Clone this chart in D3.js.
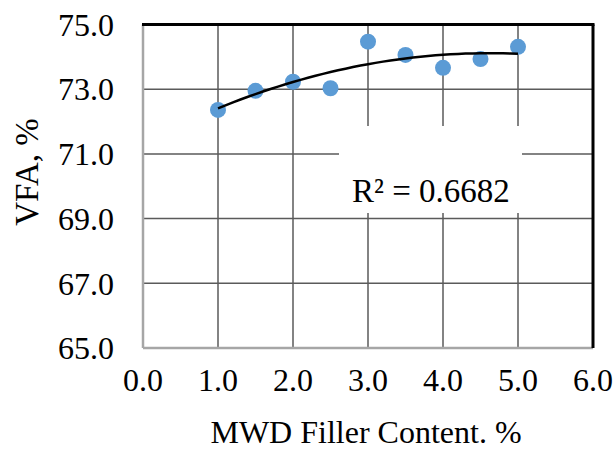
<!DOCTYPE html>
<html>
<head>
<meta charset="utf-8">
<script src="https://cdn.jsdelivr.net/npm/d3@7"></script>
<style>
  body { margin: 0; background: #fff; }
  svg { display: block; font-family: "Liberation Serif", "Times New Roman", serif; }
</style>
</head>
<body>
<svg width="614" height="450"></svg>
<script>
// Данные графика
const fillerContent = [1.0, 1.5, 2.0, 2.5, 3.0, 3.5, 4.0, 4.5, 5.0];
const vfaValues = [72.36, 72.95, 73.23, 73.03, 74.47, 74.06, 73.66, 73.93, 74.31];
const xTicks = [0, 1, 2, 3, 4, 5, 6];
const yTicks = [65, 67, 69, 71, 73, 75];
const rSquaredLabel = "R² = 0.6682";

const svg = d3.select("svg");

// Параметры области графика
const area = { left: 143, right: 593, top: 24.5, bottom: 348 };

const scX = d3.scaleLinear().domain([0, 6]).range([area.left, area.right]);
const scY = d3.scaleLinear().domain([65, 75]).range([area.bottom, area.top]);

// Сетка
svg.append("g")
    .selectAll("line")
    .data(xTicks.slice(1, -1))
    .enter()
    .append("line")
    .attr("x1", d => scX(d)).attr("x2", d => scX(d))
    .attr("y1", area.top).attr("y2", area.bottom)
    .attr("stroke", "#5a5a5a").attr("stroke-width", 1.5);

svg.append("g")
    .selectAll("line")
    .data(yTicks.slice(1, -1))
    .enter()
    .append("line")
    .attr("x1", area.left).attr("x2", area.right)
    .attr("y1", d => scY(d)).attr("y2", d => scY(d))
    .attr("stroke", "#5a5a5a").attr("stroke-width", 1.5);

// Рамка: левая и нижняя серые, верхняя и правая чёрные
svg.append("line").attr("x1", area.left).attr("x2", area.left)
    .attr("y1", area.top).attr("y2", area.bottom)
    .attr("stroke", "#a6a6a6").attr("stroke-width", 2.5);
svg.append("line").attr("x1", area.left).attr("x2", area.right)
    .attr("y1", area.bottom).attr("y2", area.bottom)
    .attr("stroke", "#a6a6a6").attr("stroke-width", 2.5);
svg.append("line").attr("x1", area.left - 1).attr("x2", area.right + 1.5)
    .attr("y1", area.top).attr("y2", area.top)
    .attr("stroke", "#000").attr("stroke-width", 3);
svg.append("line").attr("x1", area.right).attr("x2", area.right)
    .attr("y1", area.top).attr("y2", area.bottom)
    .attr("stroke", "#000").attr("stroke-width", 3);

// Полиномиальная линия тренда (2-й степени, МНК по данным)
function quadFit(xs, ys) {
    const n = xs.length;
    let s = [0, 0, 0, 0, 0], t = [0, 0, 0];
    for (let i = 0; i < n; i++) {
        for (let k = 0; k < 5; k++) s[k] += Math.pow(xs[i], k);
        for (let k = 0; k < 3; k++) t[k] += ys[i] * Math.pow(xs[i], k);
    }
    const M = [[s[0], s[1], s[2], t[0]], [s[1], s[2], s[3], t[1]], [s[2], s[3], s[4], t[2]]];
    for (let i = 0; i < 3; i++) {
        for (let j = i + 1; j < 3; j++) {
            const f = M[j][i] / M[i][i];
            for (let k = i; k < 4; k++) M[j][k] -= f * M[i][k];
        }
    }
    const c = [0, 0, 0];
    for (let i = 2; i >= 0; i--) {
        let v = M[i][3];
        for (let k = i + 1; k < 3; k++) v -= M[i][k] * c[k];
        c[i] = v / M[i][i];
    }
    return x => c[0] + c[1] * x + c[2] * x * x;
}
const trend = quadFit(fillerContent, vfaValues);
const trendX = d3.range(0, 41).map(i => 1 + i * 0.1);

// Точки
svg.append("g")
    .selectAll("circle")
    .data(fillerContent)
    .enter()
    .append("circle")
    .attr("cx", d => scX(d))
    .attr("cy", (d, i) => scY(vfaValues[i]))
    .attr("r", 8)
    .attr("fill", "#5b9bd5");

svg.append("path")
    .datum(trendX)
    .attr("fill", "none")
    .attr("stroke", "#000")
    .attr("stroke-width", 2.5)
    .attr("d", d3.line().x(d => scX(d)).y(d => scY(trend(d))));

// Подпись R² на белом фоне
svg.append("rect")
    .attr("x", 339).attr("y", 126)
    .attr("width", 183).attr("height", 87)
    .attr("fill", "#fff");
svg.append("text")
    .attr("x", 431).attr("y", 202)
    .attr("text-anchor", "middle")
    .attr("font-size", 33)
    .text(rSquaredLabel);

// Подписи осей
svg.append("g")
    .selectAll("text")
    .data(yTicks)
    .enter()
    .append("text")
    .attr("x", 114)
    .attr("y", d => scY(d))
    .attr("dy", "0.35em")
    .attr("text-anchor", "end")
    .attr("font-size", 32)
    .text(d => d.toFixed(1));

svg.append("g")
    .selectAll("text")
    .data(xTicks)
    .enter()
    .append("text")
    .attr("x", d => scX(d))
    .attr("y", 391)
    .attr("text-anchor", "middle")
    .attr("font-size", 32)
    .text(d => d.toFixed(1));

svg.append("text")
    .attr("x", 366).attr("y", 443)
    .attr("text-anchor", "middle")
    .attr("font-size", 32)
    .text("MWD Filler Content. %");

svg.append("text")
    .attr("transform", "translate(38, 172) rotate(-90)")
    .attr("text-anchor", "middle")
    .attr("font-size", 33)
    .text("VFA, %");
</script>
</body>
</html>
